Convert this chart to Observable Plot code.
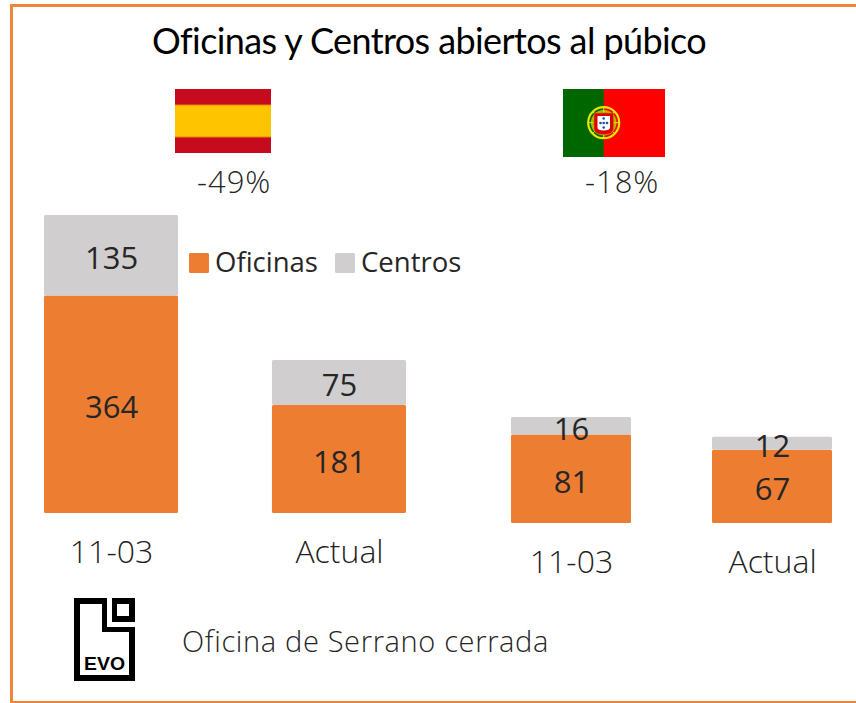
<!DOCTYPE html>
<html><head><meta charset="utf-8">
<script src="https://cdn.jsdelivr.net/npm/d3@7"></script>
<script src="https://cdn.jsdelivr.net/npm/@observablehq/plot@0.6"></script>
<style>
html,body{margin:0;padding:0;background:#fff}
#page{position:relative;width:856px;height:703px;overflow:hidden;font-family:"Open Sans",sans-serif;color:#262626}
#page>svg,#page>div.p{position:absolute;left:0;top:0}
.abs{position:absolute;white-space:nowrap;line-height:1}
#frame{position:absolute;left:10px;top:4px;width:843px;height:694px;border:solid #F0853A;border-width:3px 0 2px 3px;box-sizing:content-box}
</style></head><body>
<div id="page"><div id="frame"></div></div>
<script>
const periods = ["11-03","Actual"];
const spainOficinas = [364,181];
const spainCentros = [135,75];
const portugalOficinas = [81,67];
const portugalCentros = [16,12];
const seriesNames = ["Oficinas","Centros"];
const seriesColors = ["#ED7D31","#D0CECE"];
const titleText = "Oficinas y Centros abiertos al púbico";
const changes = ["-49%","-18%"];
const footer = "Oficina de Serrano cerrada";
const page = document.getElementById("page");
const font = '"Open Sans",sans-serif';

function rows(of, ce){
  return periods.flatMap((p,i)=>[{p,s:seriesNames[0],v:of[i]},{p,s:seriesNames[1],v:ce[i]}]);
}
function panel(data,{left,right,top,bottom,inner,ymax}){
  return Plot.plot({
    width:856,height:703,
    marginLeft:left,marginRight:856-right,marginTop:top,marginBottom:703-bottom,
    style:{background:"transparent",fontFamily:font},
    x:{domain:periods,paddingInner:inner,paddingOuter:0,align:0.5,round:false,label:null,axis:null},
    y:{domain:[0,ymax],axis:null},
    color:{domain:seriesNames,range:seriesColors},
    marks:[
      Plot.barY(data,Plot.stackY({x:"p",y:"v",fill:"s",order:seriesNames,rx:1.5})),
      Plot.text(data,Plot.stackY({x:"p",y:"v",z:"s",order:seriesNames,text:d=>String(d.v),fontSize:31,fontWeight:400,fill:"#262626",dy:3.5,letterSpacing:2})),
      Plot.axisX({anchor:"bottom",tickSize:0,tickPadding:39,fontSize:32,fontWeight:300,label:null,color:"#1f1f1f",lineAnchor:"middle",textStroke:"none",letterSpacing:1})
    ]
  });
}
page.append(panel(rows(spainOficinas,spainCentros),{left:44,right:406,top:215,bottom:513,inner:0.412,ymax:499}));
page.append(panel(rows(portugalOficinas,portugalCentros),{left:511,right:832,top:417,bottom:523,inner:0.403,ymax:97}));

function label(text,css){
  const d=document.createElement("div");d.className="abs";d.textContent=text;
  Object.assign(d.style,css);page.append(d);return d;
}
label(titleText,{left:"152px",top:"22px",fontSize:"36px",fontWeight:"400",color:"#000",fontFamily:"Lato",letterSpacing:"-0.6px"});
label(changes[0],{left:"197px",top:"166px",fontSize:"31px",fontWeight:"300",letterSpacing:"1px"});
label(changes[1],{left:"585px",top:"166px",fontSize:"31px",fontWeight:"300",letterSpacing:"1px"});
label(footer,{left:"182px",top:"626px",fontSize:"29px",fontWeight:"300",letterSpacing:"0.65px"});
[[189,215],[335,361]].forEach(([sx,tx],i)=>{
  const s=document.createElement("div");
  Object.assign(s.style,{position:"absolute",left:sx+"px",top:"253px",width:"20px",height:"20px",background:seriesColors[i],borderRadius:"1.5px"});
  page.append(s);
  label(seriesNames[i],{left:tx+"px",top:"248px",fontSize:"27.5px",fontWeight:"400"});
});
const art=document.createElement("div");
art.innerHTML=`
<svg class="abs" style="left:175px;top:89px" width="96" height="64" viewBox="0 0 96 64">
<rect width="96" height="64" fill="#C60B1E"/><rect y="16" width="96" height="32" fill="#FFC400"/>
<path d="M0 16H96M0 48H96" stroke="#E8820E" stroke-width="1"/></svg>
<svg class="abs" style="left:563px;top:89px" width="102" height="68" viewBox="0 0 102 68">
<rect width="102" height="68" fill="#f00"/><rect width="40.700" height="68" fill="#060"/>
<circle cx="40.700" cy="33.700" r="15.500" fill="none" stroke="#e6e600" stroke-width="2.200"/>
<circle cx="40.700" cy="33.700" r="11.500" fill="none" stroke="#b8b800" stroke-width="2.500"/>
<path d="M25 33.700H56M40.700 18V49.500M30 23L51 44M51 23L30 44" stroke="#e6e600" stroke-width="1"/>
<path d="M31 24H50.500V40Q50.500 45.500 40.700 45.500Q31 45.500 31 40Z" fill="#e00000" stroke="#b89000" stroke-width=".6"/>
<path d="M34.500 27H47V38.500Q47 41.500 40.700 41.500Q34.500 41.500 34.500 38.500Z" fill="#fff"/>
<g fill="#1a4fa8"><circle cx="40.700" cy="29.500" r="1.300"/><circle cx="37.500" cy="34" r="1.300"/><circle cx="40.700" cy="34" r="1.300"/><circle cx="44" cy="34" r="1.300"/><circle cx="40.700" cy="38.500" r="1.300"/></g></svg>
<svg class="abs" style="left:74px;top:598px" width="61" height="83" viewBox="0 0 61 83">
<path d="M0 0H33V29H61V83H0Z" fill="#000"/>
<path d="M6 6H28V34H55V77H6Z" fill="#fff"/>
<rect x="38" y="0" width="23" height="24" fill="#000"/>
<rect x="43" y="6" width="12" height="12" fill="#fff"/>
<text x="30.500" y="72" text-anchor="middle" font-family="Liberation Sans" font-weight="700" font-size="18.500" textLength="41" lengthAdjust="spacingAndGlyphs" fill="#000">EVO</text></svg>`;
page.append(art);
</script></body></html>
